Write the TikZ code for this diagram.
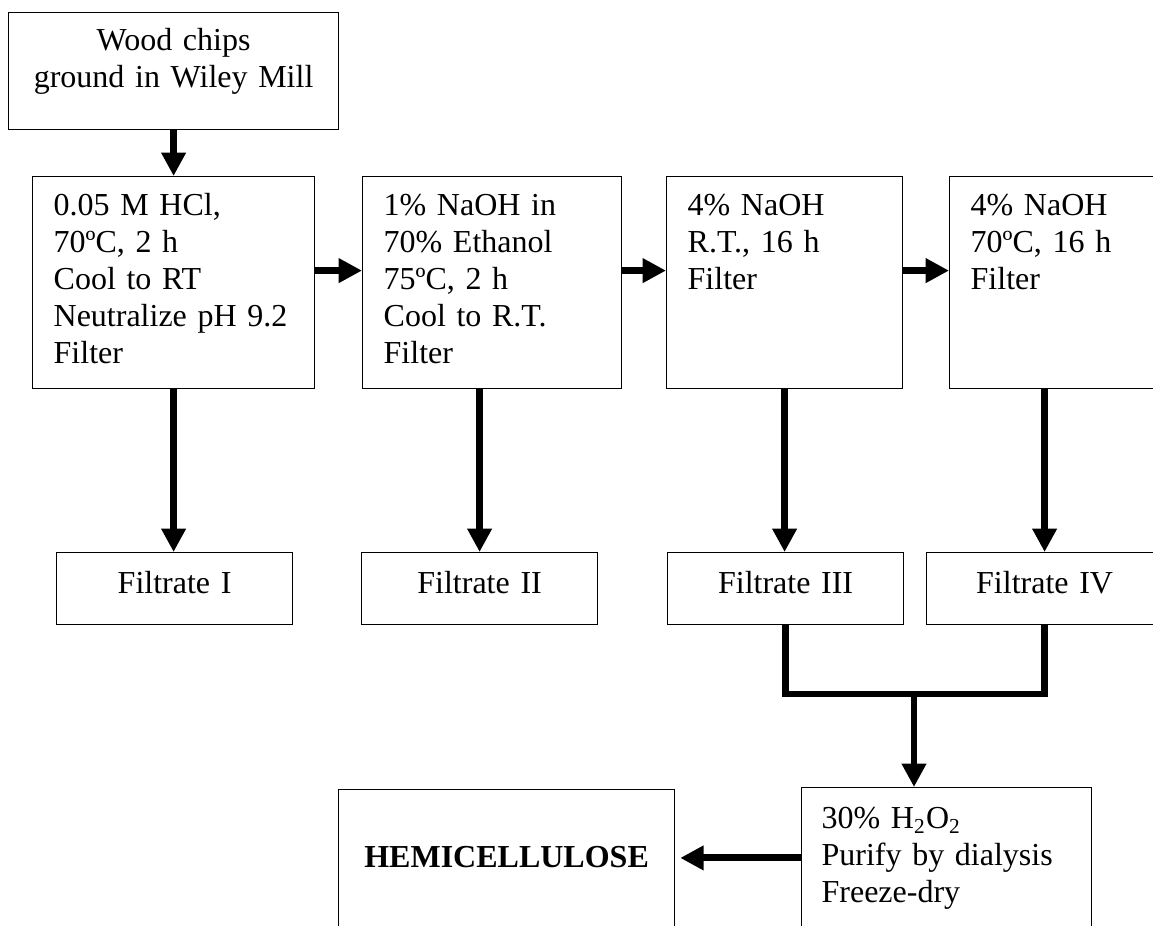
\documentclass[tikz,border=0pt]{standalone}
\usepackage{fontspec}
\setmainfont{Liberation Serif}
\usetikzlibrary{arrows.meta}
\tikzset{
    stepbox/.style={draw, line width=0.45pt, anchor=north west, inner xsep=7.9pt, inner ysep=0pt,
        text height=14.6pt, align=left, font=\fontsize{12pt}{13.875pt}\selectfont},
    filbox/.style={stepbox, align=center, text width=72.7pt, text height=15.4pt, text depth=11.6pt},
    flow/.style={line width=2.6pt, -{Triangle[length=8.8pt, width=8.8pt]}},
}
\begin{document}
\begin{tikzpicture}[x=0.375pt, y=-0.375pt]
            \useasboundingbox (0,0) rectangle (1153,926);

            \node[stepbox, align=center, text width=107.95pt, text height=14.25pt, text depth=29.6pt] (wood) at (8,12) {Wood chips\\ground in Wiley Mill};

            \node[stepbox, text width=89.95pt, text depth=64.9pt] (hcl)  at (32,176)  {0.05 M HCl,\\70ºC, 2 h\\Cool to RT\\Neutralize pH 9.2\\Filter};
            \node[stepbox, text width=81.3pt,  text depth=64.9pt] (etoh) at (362,176) {1\% NaOH in\\70\% Ethanol\\75ºC, 2 h\\Cool to R.T.\\Filter};
            \node[stepbox, text width=72.7pt,  text depth=64.9pt] (naoh) at (666,176) {4\% NaOH\\R.T., 16 h\\Filter};
            \node[stepbox, text width=72.7pt,  text depth=64.9pt] (hot)  at (949,176) {4\% NaOH\\70ºC, 16 h\\Filter};

            \node[filbox] (fil1) at (56,552)  {Filtrate I};
            \node[filbox] (fil2) at (361,552) {Filtrate II};
            \node[filbox] (fil3) at (667,552) {Filtrate III};
            \node[filbox] (fil4) at (926,552) {Filtrate IV};

            \node[stepbox, align=center, inner xsep=4pt, text width=118pt, text height=29.25pt, text depth=50pt,
                font=\fontsize{12pt}{13.875pt}\selectfont\bfseries] (hemi) at (338,789) {HEMICELLULOSE};
            \node[stepbox, inner xsep=7.5pt, text width=93.75pt, text height=15.4pt, text depth=60pt] (pure) at (801,787)
                {30\% H\textsubscript{2}O\textsubscript{2}\\Purify by dialysis\\Freeze-dry};

            \coordinate (mix) at (914,694);

            \draw[flow] (wood) -- (hcl);
            \draw[flow] ([yshift=4.5pt]hcl.east)  -- ([yshift=4.5pt]etoh.west);
            \draw[flow] ([yshift=4.5pt]etoh.east) -- ([yshift=4.5pt]naoh.west);
            \draw[flow] ([yshift=4.5pt]naoh.east) -- ([yshift=4.5pt]hot.west);

            \draw[flow] (hcl.south) -- (hcl.south |- fil1.north);
            \draw[flow] (fil2.north |- etoh.south) -- (fil2.north);
            \draw[flow] (naoh.south) -- (naoh.south |- fil3.north);
            \draw[flow] (fil4.north |- hot.south) -- (fil4.north);

            \draw[line width=2.6pt] (fil3.south) |- (mix) -| (fil4.south);
            \draw[flow] (mix) -- (mix |- pure.north);
            \draw[flow, shorten >=1.9pt] ([yshift=-26.6pt]pure.north west) -- ([yshift=-26.6pt]pure.north west -| hemi.east);
        \end{tikzpicture}
\end{document}
